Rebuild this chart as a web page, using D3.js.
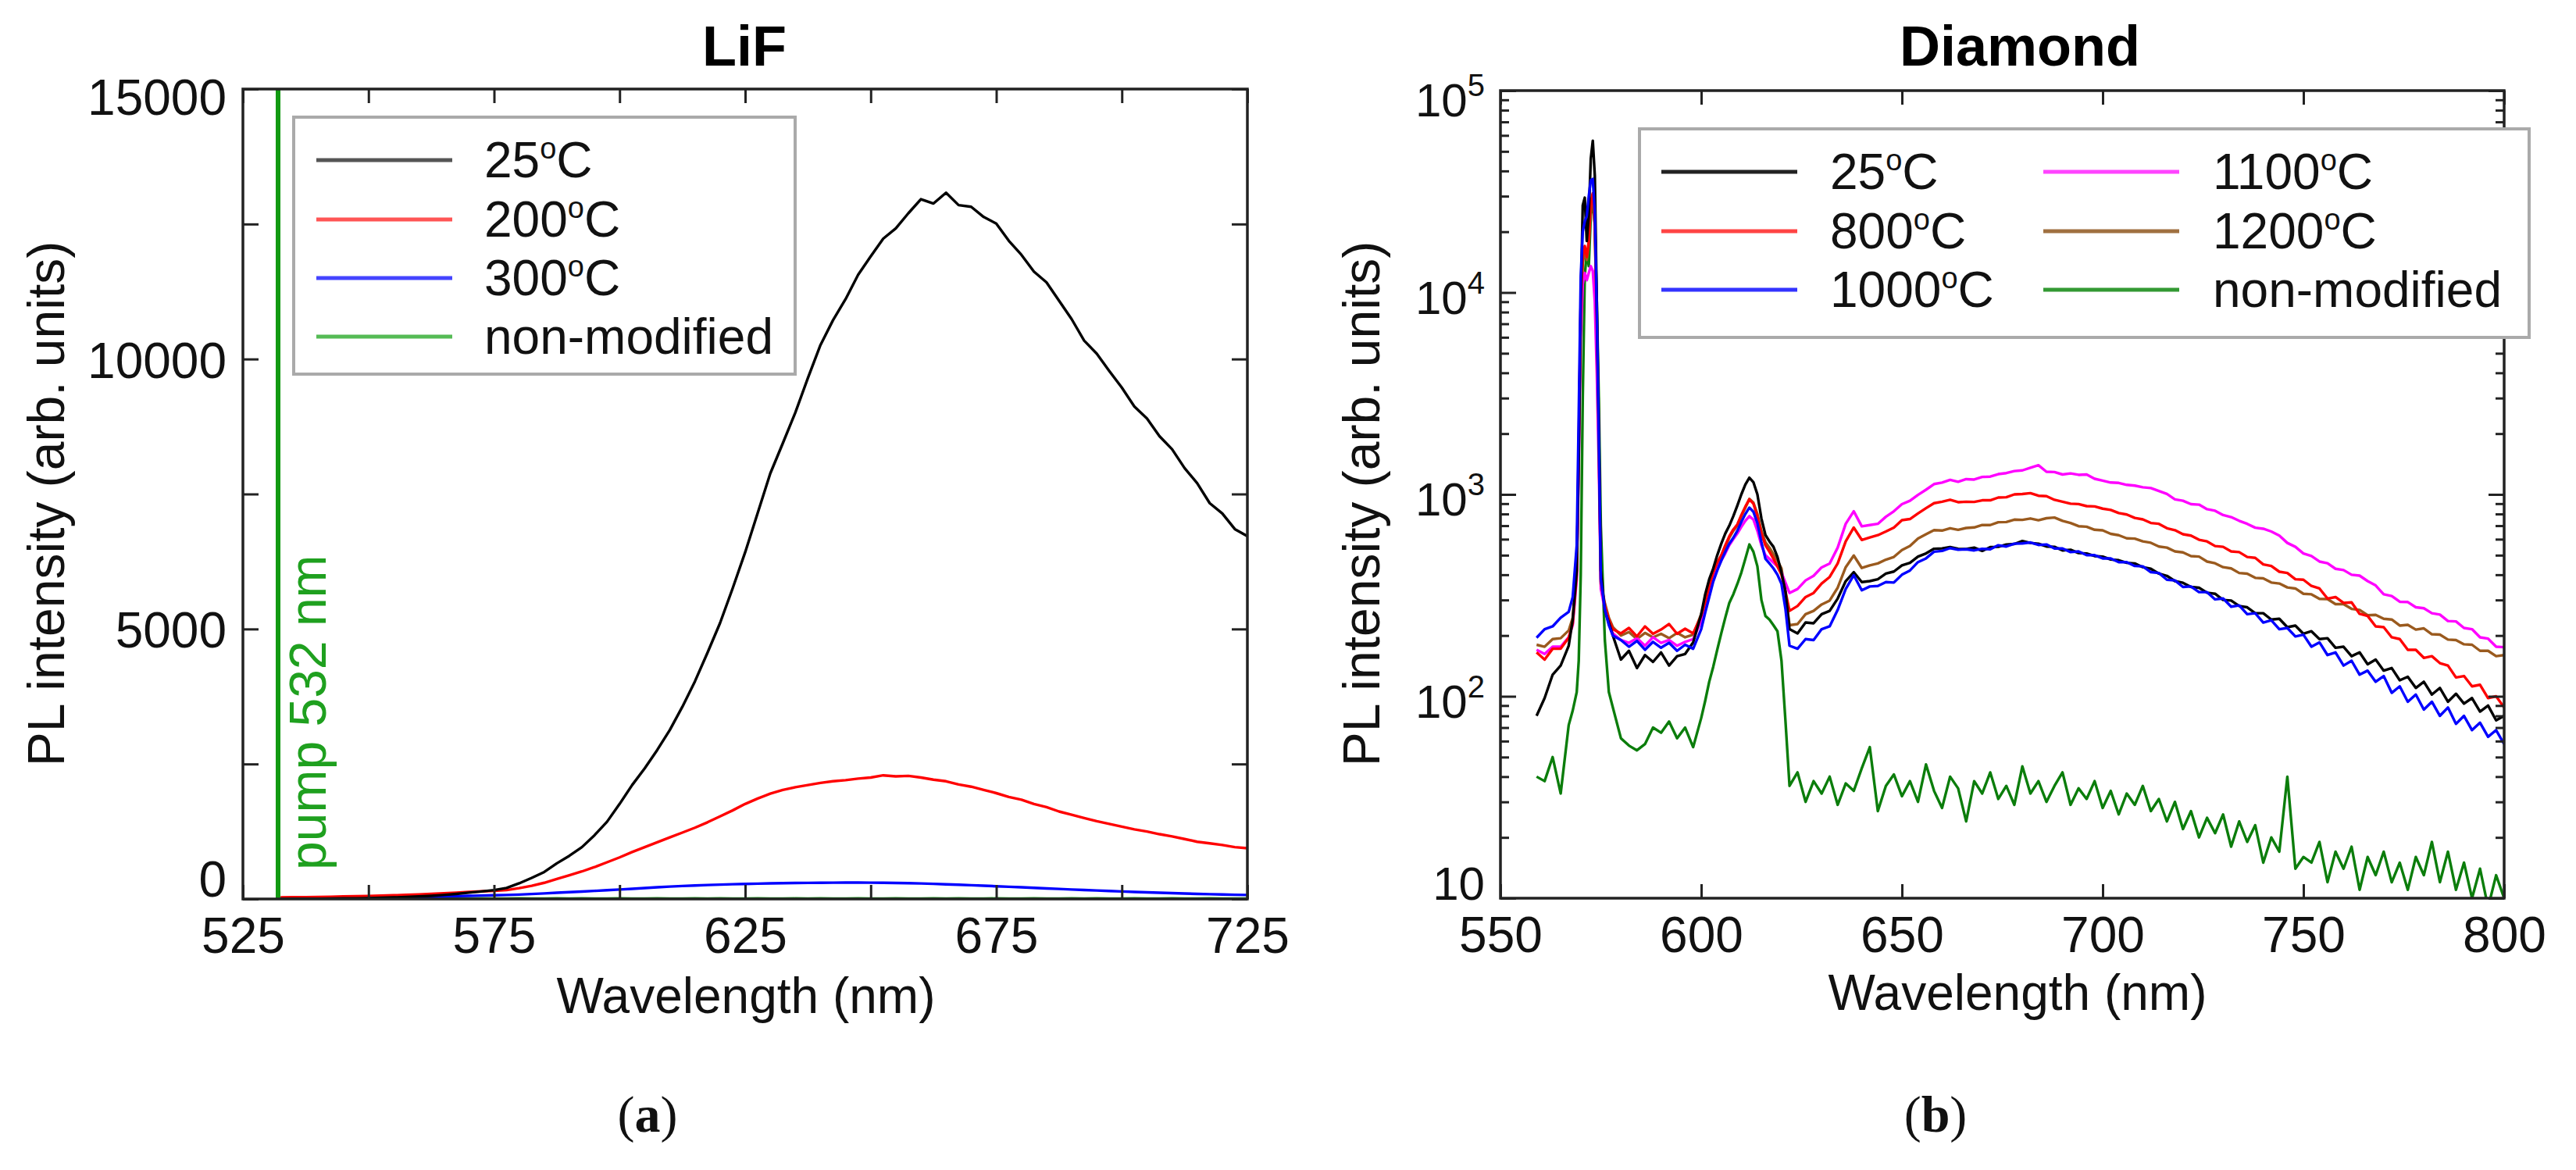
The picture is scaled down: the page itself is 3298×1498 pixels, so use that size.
<!DOCTYPE html>
<html>
<head>
<meta charset="utf-8">
<script src="https://cdn.jsdelivr.net/npm/d3@7"></script>
<style>body{margin:0;background:#fff}</style>
</head>
<body>
<script>
// ---------- (a) LiF ----------
var lifWl = [532.5,535,537.5,540,542.5,545,547.5,550,552.5,555,557.5,560,562.5,565,567.5,570,572.5,575,577.5,580,
  582.5,585,587.5,590,592.5,595,597.5,600,602.5,605,607.5,610,612.5,615,617.5,620,622.5,625,627.5,630,
  632.5,635,637.5,640,642.5,645,647.5,650,652.5,655,657.5,660,662.5,665,667.5,670,672.5,675,677.5,680,
  682.5,685,687.5,690,692.5,695,697.5,700,702.5,705,707.5,710,712.5,715,717.5,720,722.5,725];

var lif25 = [2,3,4,6,8,10,13,17,22,28, 36,46,58,74,94,118,140,165,205,290,
  390,500,660,800,960,1180,1430,1760,2110,2420, 2760,3130,3560,4030,4560,5110,5750,6420,7150,7880,
  8440,9010,9650,10260,10720,11110,11560,11900,12230,12420, 12700,12960,12880,13080,12850,12820,12630,12510,12190,11930,
  11620,11420,11080,10740,10340,10100,9780,9470,9120,8900, 8570,8330,7980,7700,7330,7140,6850,6720];
var lif200 = [30,32,35,38,42,46,51,56,62,68, 75,84,94,105,118,130,142,150,165,200,
  245,300,370,440,510,590,680,770,870,960, 1050,1140,1230,1320,1420,1530,1640,1760,1860,1950,
  2020,2070,2110,2150,2180,2200,2230,2250,2290,2270, 2280,2250,2210,2180,2120,2080,2020,1960,1890,1840,
  1760,1700,1620,1560,1500,1440,1390,1340,1290,1250, 1200,1160,1110,1060,1030,1000,960,940];
var lif300 = [4,5,6,7,9,11,13,16,19,23, 28,33,39,45,52,58,63,68,74,82,
  92,103,115,126,138,150,163,176,189,203, 216,229,240,250,258,266,273,279,284,289,
  293,296,299,301,302,303,303,302,300,297, 292,287,280,272,264,255,245,236,226,216,
  206,196,186,176,166,157,148,139,131,123, 115,108,101,95,89,83,78,74];
var lifNon = [12,9,10,8,11,9,8,10,9,7, 9,10,8,9,11,8,10,9,8,10,
  9,8,11,9,10,8,9,10,8,9, 10,9,8,11,9,10,8,9,10,9,
  8,10,9,11,8,9,10,8,9,10, 9,8,10,9,11,8,9,10,9,8,
  10,9,8,10,9,11,8,9,10,9, 8,10,9,8,10,9,8,9];

var lifXTicks = [525,550,575,600,625,650,675,700,725];
var lifXLabels = [525,575,625,675,725];
var lifYTicks = [0,2500,5000,7500,10000,12500,15000];
var lifYLabels = [0,5000,10000,15000];
var pumpWl = 532;

// ---------- (b) Diamond ----------
var diaWl = [559,561,563,565,567,568,569,
  569.5,570,570.5,571,571.5,572,572.5,573,573.5,574,574.5,575,
  576,577,578,
  580,582,584,586,588,590,592,594,596,598,
  600,601,602,603,604,605,606,607,608,609,610,611,612,613,614,615,616,617,618,619,620,621,622,
  624,626,628,630,632,634,636,638,640,
  642,644,646,648,650,652,654,656,658,660,
  662,664,666,668,670,672,674,676,678,680,
  682,684,686,688,690,692,694,696,698,700,
  702,704,706,708,710,712,714,716,718,720,
  722,724,726,728,730,732,734,736,738,740,
  742,744,746,748,750,752,754,756,758,760,
  762,764,766,768,770,772,774,776,778,780,
  782,784,786,788,790,792,794,796,798,800];

var dia25 = [80,98,128,142,178,240,420,
  1500,9000,27000,29500,18000,24000,46000,56500,38000,9000,2200,420,
  265,232,200,
  152,168,138,160,148,165,142,158,162,185,
  255,320,380,430,500,570,640,700,780,880,1000,1120,1210,1150,1000,760,630,585,550,490,410,330,215,
  205,232,230,255,265,305,372,412,368,
  372,380,405,415,445,458,492,510,538,540,
  548,538,536,545,525,548,550,565,568,588,
  575,570,552,550,528,532,512,510,495,492,
  476,472,458,455,436,428,405,395,372,365,
  348,345,326,322,300,298,280,276,258,258,
  240,242,220,224,204,210,192,194,174,176,
  158,165,144,152,134,138,120,125,110,118,
  102,110,94,103,92,98,84,90,76,80];
var dia800 = [165,152,172,172,195,230,400,
  1800,9000,15000,17000,15000,18000,28000,31000,22000,7000,1800,370,
  280,240,215,
  205,218,198,222,204,214,228,204,216,205,
  250,292,350,410,460,500,560,620,670,710,790,870,945,900,780,640,560,520,480,440,400,330,265,
  280,310,325,362,390,455,585,685,595,
  612,628,655,685,745,755,805,855,905,920,
  940,915,920,918,935,935,965,968,1000,1005,
  1015,985,980,940,920,900,896,875,872,850,
  838,808,795,765,752,722,715,680,665,635,
  625,596,585,555,550,522,518,490,485,450,
  442,414,408,380,378,352,342,305,310,290,
  292,256,250,222,220,196,192,170,170,155,
  158,146,142,124,126,112,114,98,100,88];
var dia1000 = [195,215,222,245,262,310,560,
  2500,12000,20000,22500,24000,30000,36000,36500,25000,8000,1900,380,
  270,225,200,
  190,176,188,170,186,174,184,168,180,172,
  215,260,310,370,420,470,520,570,610,660,730,800,860,820,720,580,480,455,430,400,360,270,178,
  172,192,190,215,222,268,340,398,335,
  350,352,368,366,400,420,462,482,520,525,
  542,532,535,528,538,535,560,552,570,572,
  578,562,565,540,540,518,522,500,500,482,
  482,462,462,442,440,412,408,378,375,348,
  350,328,328,302,305,278,282,255,258,232,
  238,215,218,198,202,176,185,160,165,142,
  150,128,134,118,126,104,112,94,102,86,
  94,80,88,73,80,68,74,63,68,58];
var dia1100 = [170,162,176,176,196,225,380,
  1400,6000,11000,12500,11500,12500,13500,12800,9000,4000,1400,340,
  270,230,205,
  190,184,194,178,196,184,190,178,186,192,
  235,280,330,385,430,470,510,560,600,640,690,740,780,750,660,560,500,480,460,440,410,365,325,
  340,375,395,435,455,545,715,825,695,
  705,715,775,825,895,930,995,1055,1125,1145,
  1180,1155,1190,1185,1220,1225,1260,1275,1305,1315,
  1355,1395,1295,1290,1255,1270,1250,1255,1195,1170,
  1145,1140,1115,1105,1085,1075,1040,1005,945,930,
  895,890,845,830,790,772,740,715,684,676,
  655,625,575,550,510,495,465,456,428,422,
  400,396,372,354,320,314,294,293,276,273,
  258,254,236,235,218,215,196,193,176,175];
var dia1200 = [180,176,192,194,212,245,420,
  1600,8000,14000,16000,14500,17000,27000,30500,21000,6800,1700,360,
  290,245,220,
  200,208,192,206,196,204,194,206,196,202,
  255,300,355,410,455,495,550,610,660,700,780,860,950,910,800,660,580,545,505,470,430,320,225,
  228,255,265,285,298,345,436,498,432,
  445,455,475,490,530,555,605,635,665,662,
  680,668,682,686,705,705,728,730,750,748,
  760,745,762,768,740,722,696,692,668,664,
  638,628,606,604,585,576,552,545,522,516,
  495,492,465,456,436,430,408,405,386,384,
  366,362,346,342,322,320,304,303,286,286,
  271,268,252,253,242,240,224,226,214,217,
  203,202,191,190,181,180,168,168,158,160];
var diaNon = [40,38,50,33,72,85,105,
  150,400,3000,12000,16000,13500,24000,28700,22000,9000,3000,700,
  190,105,88,
  62,57,54,58,70,66,75,62,70,56,
  78,95,118,140,170,205,245,290,320,360,410,480,565,520,440,300,250,240,225,210,150,75,36,
  42,30,38,33,40,29,37,34,44,
  56,27,36,41,32,38,30,46,34,28,
  40,35,24,38,33,42,31,36,29,45,
  33,38,30,36,42,29,35,31,38,28,
  34,26,33,29,36,27,31,24,30,22,
  27,20,25,21,26,18,24,19,23,15,
  20,17,40,14,16,15,19,12,17,14,
  18,11,16,13,17,12,15,11,16,13,
  19,12,17,11,15,10,14,9,13,10];

var diaXTicks = [550,600,650,700,750,800];
var diaYMajor = [10,100,1000,10000,100000];

var lifSeries = [
  {name:"25", vals:lif25, color:"#000000", key:"#555555"},
  {name:"200", vals:lif200, color:"#ff0000", key:"#ff5555"},
  {name:"300", vals:lif300, color:"#0000ff", key:"#4444ff"},
  {name:"non-modified", vals:lifNon, color:"#1d9a1d", key:"#55bb55"}
];
var diaSeries = [
  {name:"25", vals:dia25, color:"#000000", key:"#222222"},
  {name:"800", vals:dia800, color:"#ff0000", key:"#ff4444"},
  {name:"1000", vals:dia1000, color:"#0000ff", key:"#3333ff"},
  {name:"1100", vals:dia1100, color:"#ff00ff", key:"#ff44ff"},
  {name:"1200", vals:dia1200, color:"#9a5a1e", key:"#a07040"},
  {name:"non-modified", vals:diaNon, color:"#0b7d0b", key:"#339933"}
];
// draw order for the diamond curves (back to front)
var diaOrder = [5, 4, 3, 1, 0, 2];

var W = 3298, H = 1498;
var FONT = "'Liberation Sans', Arial, sans-serif";

var svg = d3.select("body").append("svg")
    .attr("width", W)
    .attr("height", H)
    .style("font-family", FONT);
svg.append("rect").attr("width", W).attr("height", H).attr("fill", "#fff");

function styleAxis(g) {
  g.attr("font-family", FONT).attr("font-size", 64);
  g.select(".domain").remove();
  g.selectAll(".tick line").attr("stroke", "#222").attr("stroke-width", 3);
  g.selectAll(".tick text").attr("fill", "#111");
}

function degreeText(sel, x, y, name) {
  var t = sel.append("text").attr("x", x).attr("y", y).attr("font-size", 64).attr("fill", "#111");
  if (name === "non-modified") {
    t.text(name);
  } else {
    t.append("tspan").text(name);
    t.append("tspan").attr("font-size", 38).attr("dy", -24).text("o");
    t.append("tspan").attr("dy", 24).text("C");
  }
}

// ================= panel (a) =================
var xL = d3.scaleLinear().domain([525, 725]).range([311, 1597]);
var yL = d3.scaleLinear().domain([0, 15000]).range([1151, 114]);

svg.append("clipPath").attr("id", "clipL").append("rect")
    .attr("x", 311).attr("y", 114).attr("width", 1597 - 311).attr("height", 1151 - 114);

var lineL = d3.line().x(function(d) { return xL(d[0]); }).y(function(d) { return yL(d[1]); });
var gL = svg.append("g").attr("clip-path", "url(#clipL)");
lifSeries.slice().reverse().forEach(function(s) {
  var pts = lifWl.map(function(w, i) { return [w, s.vals[i]]; });
  gL.append("path").datum(pts).attr("d", lineL)
      .attr("fill", "none").attr("stroke", s.color).attr("stroke-width", 3.4)
      .attr("stroke-linejoin", "round");
});

// pump line
svg.append("line")
    .attr("x1", xL(pumpWl)).attr("x2", xL(pumpWl))
    .attr("y1", yL(15000)).attr("y2", yL(0))
    .attr("stroke", "#129a12").attr("stroke-width", 6);
svg.append("text")
    .attr("transform", "translate(417,1114) rotate(-90)")
    .attr("font-size", 66).attr("fill", "#1fa01f")
    .text("pump 532 nm");

var axLb = svg.append("g").attr("transform", "translate(0,1151)")
    .call(d3.axisBottom(xL).tickValues(lifXTicks).tickSize(-18).tickPadding(24)
      .tickFormat(function(d) { return lifXLabels.indexOf(d) >= 0 ? d : ""; }));
styleAxis(axLb);
var axLt = svg.append("g").attr("transform", "translate(0,114)")
    .call(d3.axisTop(xL).tickValues(lifXTicks).tickSize(-18).tickFormat(""));
styleAxis(axLt);
var axLl = svg.append("g").attr("transform", "translate(311,0)")
    .call(d3.axisLeft(yL).tickValues(lifYTicks).tickSize(-20).tickPadding(21)
      .tickFormat(function(d) { return lifYLabels.indexOf(d) >= 0 ? d : ""; }));
styleAxis(axLl);
axLl.selectAll(".tick text").attr("y", function(d) { return d === 0 ? -24 : (d === 15000 ? 12 : 3); });
var axLr = svg.append("g").attr("transform", "translate(1597,0)")
    .call(d3.axisRight(yL).tickValues(lifYTicks).tickSize(-20).tickFormat(""));
styleAxis(axLr);

svg.append("rect").attr("x", 311).attr("y", 114).attr("width", 1597 - 311).attr("height", 1151 - 114)
    .attr("fill", "none").attr("stroke", "#222").attr("stroke-width", 3.5);

// legend (a)
var legL = svg.append("g");
legL.append("rect").attr("x", 376).attr("y", 150).attr("width", 642).attr("height", 329)
    .attr("fill", "#fff").attr("stroke", "#aaa").attr("stroke-width", 4);
var rowL = [205, 281, 356, 431];
lifSeries.forEach(function(s, i) {
  legL.append("line").attr("x1", 405).attr("x2", 579).attr("y1", rowL[i]).attr("y2", rowL[i])
      .attr("stroke", s.key).attr("stroke-width", 5);
  degreeText(legL, 620, rowL[i] + 22, s.name);
});

svg.append("text").attr("x", 953).attr("y", 84).attr("text-anchor", "middle")
    .attr("font-size", 72).attr("font-weight", "bold").text("LiF");
svg.append("text").attr("x", 955).attr("y", 1297).attr("text-anchor", "middle")
    .attr("font-size", 64).attr("fill", "#111").text("Wavelength (nm)");
svg.append("text").attr("transform", "translate(82,645) rotate(-90)").attr("text-anchor", "middle")
    .attr("font-size", 66).attr("fill", "#111").text("PL intensity (arb. units)");

// ================= panel (b) =================
var xR = d3.scaleLinear().domain([550, 800]).range([1921, 3206]);
var yR = d3.scaleLog().domain([10, 100000]).range([1150, 116]);

svg.append("clipPath").attr("id", "clipR").append("rect")
    .attr("x", 1921).attr("y", 116).attr("width", 3206 - 1921).attr("height", 1150 - 116);

var lineR = d3.line().x(function(d) { return xR(d[0]); }).y(function(d) { return yR(d[1]); });
var gR = svg.append("g").attr("clip-path", "url(#clipR)");
diaOrder.forEach(function(k) {
  var s = diaSeries[k];
  var pts = diaWl.map(function(w, i) { return [w, s.vals[i]]; });
  gR.append("path").datum(pts).attr("d", lineR)
      .attr("fill", "none").attr("stroke", s.color).attr("stroke-width", 3.4)
      .attr("stroke-linejoin", "round");
});

var minorR = yR.ticks().filter(function(d) { return diaYMajor.indexOf(d) < 0; });

var axRb = svg.append("g").attr("transform", "translate(0,1150)")
    .call(d3.axisBottom(xR).tickValues(diaXTicks).tickSize(-18).tickPadding(24).tickFormat(d3.format("d")));
styleAxis(axRb);
var axRt = svg.append("g").attr("transform", "translate(0,116)")
    .call(d3.axisTop(xR).tickValues(diaXTicks).tickSize(-18).tickFormat(""));
styleAxis(axRt);
[[1921, d3.axisLeft], [3206, d3.axisRight]].forEach(function(p) {
  var gMin = svg.append("g").attr("transform", "translate(" + p[0] + ",0)")
      .call(p[1](yR).tickValues(minorR).tickSize(-11).tickFormat(""));
  styleAxis(gMin);
  var gMaj = svg.append("g").attr("transform", "translate(" + p[0] + ",0)")
      .call(p[1](yR).tickValues(diaYMajor).tickSize(-20).tickFormat(""));
  styleAxis(gMaj);
});

// log tick labels
var yLab = svg.append("g").attr("font-size", 60).attr("fill", "#111");
diaYMajor.forEach(function(v) {
  var e = Math.round(Math.log10(v));
  var shift = v === 100000 ? 12 : (v === 10 ? -19 : 6);
  var t = yLab.append("text").attr("x", 1901).attr("y", yR(v) + shift + 21).attr("text-anchor", "end");
  t.append("tspan").text("10");
  if (e > 1) t.append("tspan").attr("font-size", 40).attr("dy", -26).text(e);
});

svg.append("rect").attr("x", 1921).attr("y", 116).attr("width", 3206 - 1921).attr("height", 1150 - 116)
    .attr("fill", "none").attr("stroke", "#222").attr("stroke-width", 3.5);

// legend (b)
var legR = svg.append("g");
legR.append("rect").attr("x", 2099).attr("y", 165).attr("width", 1139).attr("height", 267)
    .attr("fill", "#fff").attr("stroke", "#aaa").attr("stroke-width", 4);
var rowR = [220, 296, 371];
diaSeries.forEach(function(s, i) {
  var col = Math.floor(i / 3), r = rowR[i % 3];
  var lx = col === 0 ? 2127 : 2616, tx = col === 0 ? 2343 : 2833;
  legR.append("line").attr("x1", lx).attr("x2", lx + 174).attr("y1", r).attr("y2", r)
      .attr("stroke", s.key).attr("stroke-width", 5);
  degreeText(legR, tx, r + 22, s.name);
});

svg.append("text").attr("x", 2586).attr("y", 84).attr("text-anchor", "middle")
    .attr("font-size", 72).attr("font-weight", "bold").text("Diamond");
svg.append("text").attr("x", 2583).attr("y", 1293).attr("text-anchor", "middle")
    .attr("font-size", 64).attr("fill", "#111").text("Wavelength (nm)");
svg.append("text").attr("transform", "translate(1766,645) rotate(-90)").attr("text-anchor", "middle")
    .attr("font-size", 66).attr("fill", "#111").text("PL intensity (arb. units)");

// panel captions
[["a", 829], ["b", 2478]].forEach(function(c) {
  var t = svg.append("text").attr("x", c[1]).attr("y", 1449).attr("text-anchor", "middle")
      .attr("font-family", "'Liberation Serif', 'Times New Roman', serif").attr("font-size", 66).attr("fill", "#111");
  t.append("tspan").text("(");
  t.append("tspan").attr("font-weight", "bold").text(c[0]);
  t.append("tspan").text(")");
});
</script>
</body>
</html>
